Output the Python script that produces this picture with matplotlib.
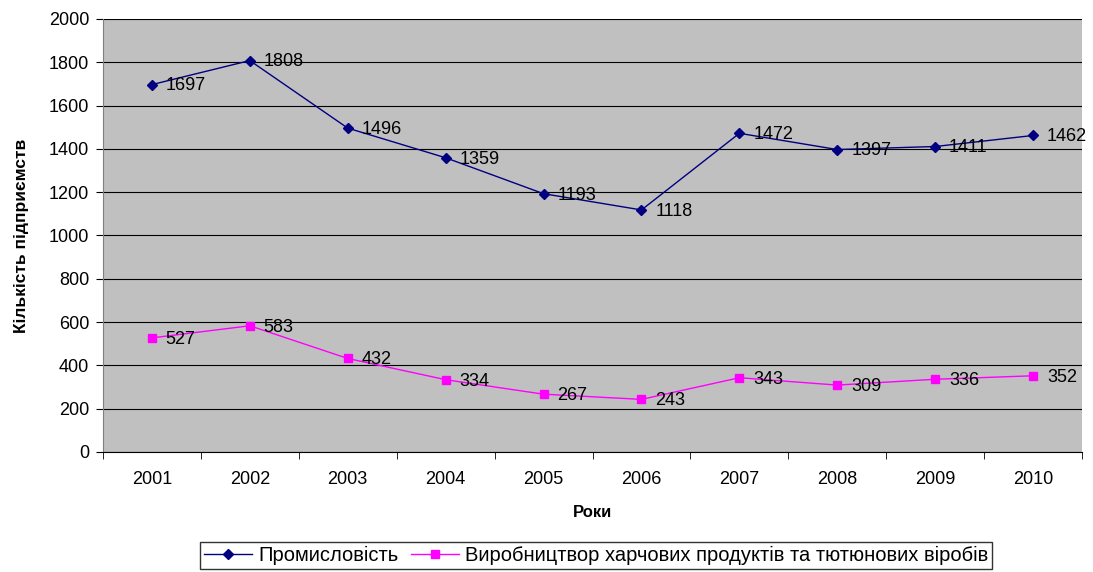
import matplotlib

matplotlib.use("Agg")

import matplotlib.pyplot as plt

plt.rcParams['font.family'] = ['Liberation Sans', 'DejaVu Sans']

years = ['2001', '2002', '2003', '2004', '2005', '2006', '2007', '2008', '2009', '2010']
industry = [1697, 1808, 1496, 1359, 1193, 1118, 1472, 1397, 1411, 1462]
food = [527, 583, 432, 334, 267, 243, 343, 309, 336, 352]

x = list(range(len(years)))

fig = plt.figure(figsize=(10.93, 5.72), dpi=100)
ax = fig.add_axes([0.0942, 0.2098, 0.8958, 0.757])
ax.set_facecolor('#C0C0C0')

ax.plot(x, industry, color='#000080', marker='D', markersize=5, linewidth=1,
        label='Промисловість', zorder=3)
ax.plot(x, food, color='#FF00FF', marker='s', markersize=6, linewidth=1,
        label='Виробництвор харчових продуктів та тютюнових віробів', zorder=3)

for xi, v in zip(x, industry):
    ax.annotate(str(v), (xi, v), xytext=(10, -1), textcoords='offset points',
                va='center', ha='left', fontsize=13)
for xi, v in zip(x, food):
    ax.annotate(str(v), (xi, v), xytext=(10, -1), textcoords='offset points',
                va='center', ha='left', fontsize=13)

ax.set_xlim(-0.5, len(years) - 0.5)
ax.set_ylim(0, 2000)
ax.set_yticks(range(0, 2001, 200))
ax.yaxis.grid(True, color='black', linewidth=0.8)
ax.set_axisbelow(True)

ax.set_xticks(x)
ax.set_xticklabels(years, fontsize=13)
ax.tick_params(axis='x', length=0, pad=14)
ax.set_xticks([i - 0.5 for i in range(len(years) + 1)], minor=True)
ax.tick_params(axis='x', which='minor', length=5, color='black')
ax.tick_params(axis='y', labelsize=13, length=5, direction='out', pad=5)

for s in ['top', 'right']:
    ax.spines[s].set_visible(False)
ax.spines['left'].set_color('#808080')
ax.spines['bottom'].set_color('black')

ax.set_xlabel('Роки', fontsize=12, fontweight='bold', labelpad=12)
ax.set_ylabel('Кількість підприємств', fontsize=12.5, fontweight='bold', labelpad=14)

leg = ax.legend(loc='upper center', bbox_to_anchor=(0.5036, -0.184), ncol=2, fontsize=14.5,
                frameon=True, fancybox=False, edgecolor='black', handlelength=2.4,
                columnspacing=0.6, handletextpad=0.3, borderpad=0.2)
leg.get_frame().set_linewidth(1)

plt.savefig('out.png', dpi=100)
plt.close()
